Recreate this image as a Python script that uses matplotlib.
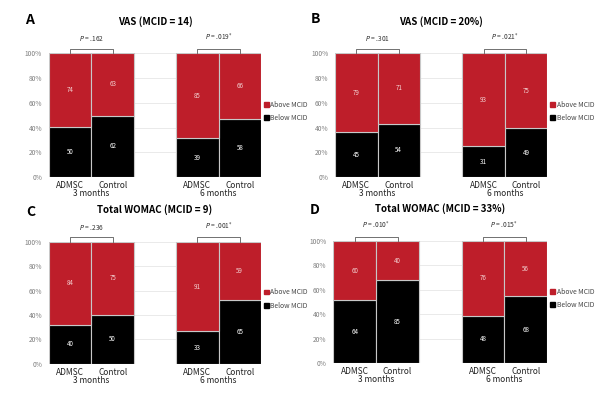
import matplotlib.pyplot as plt
import matplotlib.patches as mpatches
from matplotlib.transforms import blended_transform_factory

plt.rcParams['font.family'] = ['Noto Sans CJK KR', 'DejaVu Sans']

panels = ['A', 'B', 'C', 'D']
titles = ['VAS (MCID = 14)', 'VAS (MCID = 20%)',
          'Total WOMAC (MCID = 9)', 'Total WOMAC (MCID = 33%)']
groups = ['ADMSC', 'Control', 'ADMSC', 'Control']
periods = ['3 months', '6 months']
below = [[50, 62, 39, 58], [45, 54, 31, 49], [40, 50, 33, 65], [64, 85, 48, 68]]
above = [[74, 63, 85, 66], [79, 71, 93, 75], [84, 75, 91, 59], [60, 40, 76, 56]]
pvals = [['.162', '.019*'], ['.301', '.021*'], ['.236', '.001*'], ['.010*', '.015*']]

red = '#BE1E2A'
xpos = [0, 1, 3, 4]

fig = plt.figure(figsize=(6.14, 3.99), dpi=100)
# axes rects in figure fraction
rects = [[0.080, 0.556, 0.345, 0.311],
         [0.546, 0.556, 0.345, 0.311],
         [0.080, 0.088, 0.345, 0.306],
         [0.543, 0.090, 0.348, 0.306]]
letter_xy = [(0.048, 0.950), (0.513, 0.952), (0.050, 0.468), (0.513, 0.473)]
title_y = [0.945, 0.945, 0.474, 0.477]

for i in range(4):
    ax = fig.add_axes(rects[i])
    b = below[i]
    a = above[i]
    pb = [b[k] / (b[k] + a[k]) * 100 for k in range(4)]
    pa = [100 - v for v in pb]
    ax.bar(xpos, pb, width=1.0, color='black', edgecolor='#c8c8c8', linewidth=0.8, zorder=2)
    ax.bar(xpos, pa, bottom=pb, width=1.0, color=red, edgecolor='#c8c8c8', linewidth=0.8, zorder=2)
    for k in range(4):
        ax.text(xpos[k], pb[k] / 2, str(b[k]), color='white', fontsize=4.5,
                ha='center', va='center', zorder=3)
        ax.text(xpos[k], pb[k] + pa[k] / 2, str(a[k]), color='#f2d0d0', fontsize=4.5,
                ha='center', va='center', zorder=3)

    ax.set_xlim(-0.5, 4.5)
    ax.set_ylim(0, 100)
    ax.set_yticks([0, 20, 40, 60, 80, 100])
    ax.set_yticklabels(['0%', '20%', '40%', '60%', '80%', '100%'])
    ax.grid(axis='y', color='#e6e6e6', linewidth=0.6, zorder=0)
    ax.set_axisbelow(True)
    for s in ax.spines.values():
        s.set_visible(False)
    ax.tick_params(axis='y', length=0, labelsize=4.8, labelcolor='#7f7f7f', pad=5)
    ax.set_xticks(xpos)
    ax.set_xticklabels(groups)
    ax.tick_params(axis='x', length=0, labelsize=6, labelcolor='#222222', pad=3)

    trans = blended_transform_factory(ax.transData, ax.transAxes)
    for j, c in enumerate([0.5, 3.5]):
        ax.text(c, -0.098, periods[j], transform=trans, ha='center', va='top',
                fontsize=6, color='#222222')
        x0, x1 = xpos[2 * j], xpos[2 * j + 1]
        ax.plot([x0, x0, x1, x1], [100, 103.6, 103.6, 100], color='#707070',
                linewidth=0.7, clip_on=False)
        p = pvals[i][j]
        if p.endswith('*'):
            lab = r'$\it{P}$ = ' + p[:-1] + r'$^{*}$'
        else:
            lab = r'$\it{P}$ = ' + p
        ax.text(c, 108, lab, ha='center', va='bottom', fontsize=4.8, color='#333333')

    handles = [mpatches.Patch(color=red, label='Above MCID'),
               mpatches.Patch(color='black', label='Below MCID')]
    ax.legend(handles=handles, loc='center left', bbox_to_anchor=(0.995, 0.53),
              frameon=False, fontsize=4.9, handlelength=0.7, handleheight=0.7,
              handletextpad=0.25, labelspacing=0.8, labelcolor='#444444',
              borderaxespad=0.2)

    cx = rects[i][0] + rects[i][2] / 2
    fig.text(cx, title_y[i], titles[i], ha='center', va='center',
             fontsize=7, fontweight='bold')
    fig.text(letter_xy[i][0], letter_xy[i][1], panels[i], ha='center', va='center',
             fontsize=10, fontweight='bold')

fig.savefig('out.png', dpi=100)
